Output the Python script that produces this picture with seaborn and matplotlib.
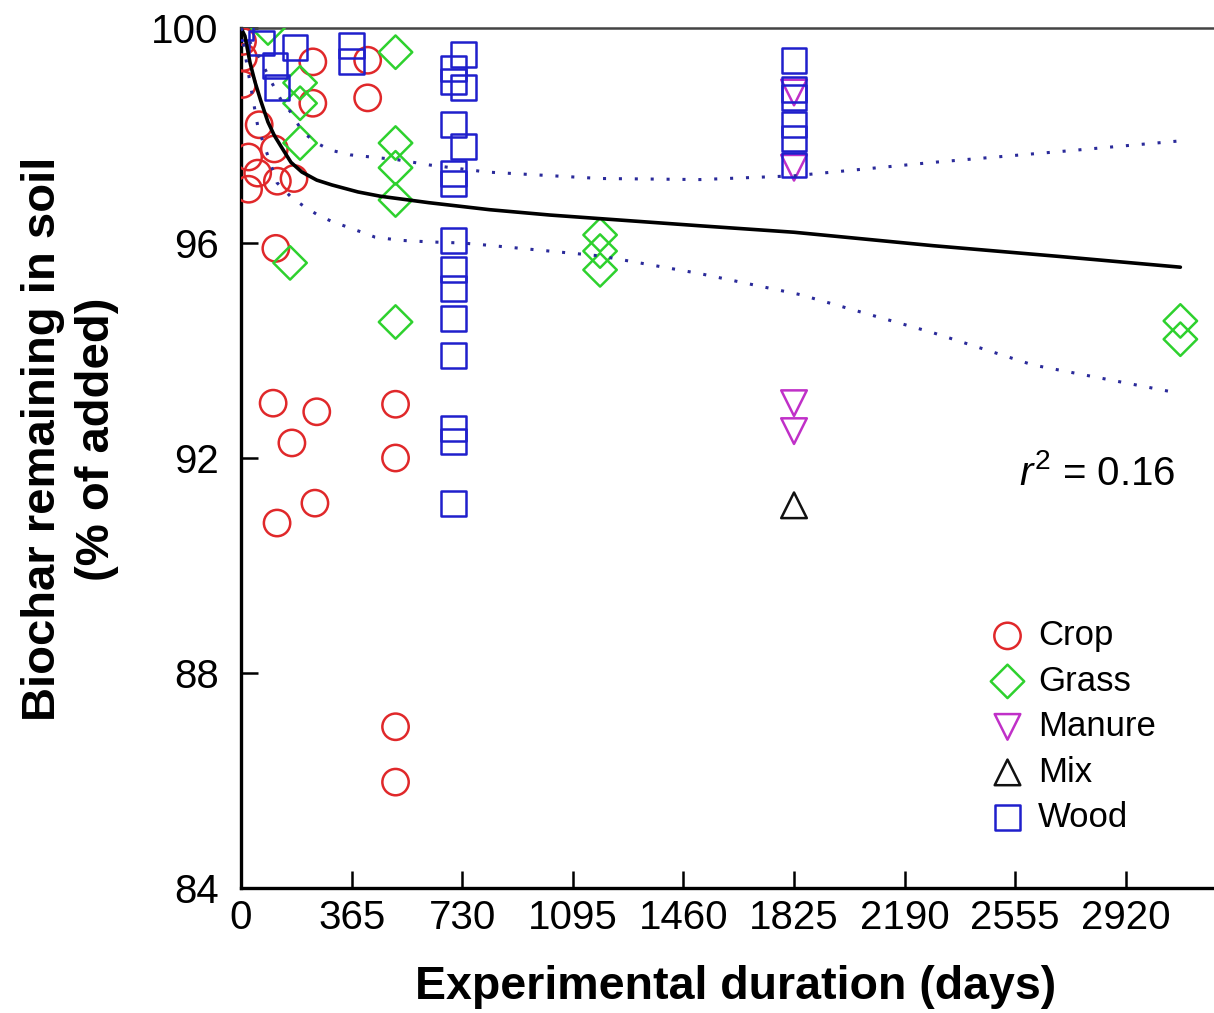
import matplotlib
matplotlib.use("Agg")
import matplotlib.pyplot as plt
import seaborn as sns
import pandas as pd

# ---------------- data ----------------
crop_days = [5, 8, 5, 60, 25, 110, 55, 120, 175, 25, 115, 237, 237, 418, 418,
             106, 250, 168, 244, 119, 510, 510, 510, 510]
crop_vals = [99.75, 99.45, 98.95, 98.2, 97.6, 97.75, 97.3, 97.15, 97.2, 97.0, 95.9,
             99.37, 98.6, 99.4, 98.7,
             93.02, 92.86, 92.28, 91.16, 90.79, 93.0, 92.0, 87.0, 85.97]

grass_days = [89, 195, 195, 195, 162, 510, 510, 510, 510, 510, 1185, 1185, 1185, 3100, 3100]
grass_vals = [100.0, 98.98, 98.6, 97.86, 95.63, 99.55, 97.86, 97.4, 96.8, 94.53,
              96.15, 95.85, 95.5, 94.55, 94.21]

manure_days = [1825, 1825, 1825, 1825]
manure_vals = [98.8, 97.4, 93.02, 92.5]

mix_days = [1825]
mix_vals = [91.12]

wood_days = [0, 69, 112, 119, 178, 366, 366,
             700, 700, 700, 700, 700, 700, 700, 700, 700, 700, 700, 700, 700,
             733, 733, 733,
             1825, 1825, 1825, 1825, 1825, 1825]
wood_vals = [100.0, 99.72, 99.31, 98.9, 99.63, 99.68, 99.37,
             99.25, 99.0, 98.2, 97.3, 97.1, 96.05, 95.5, 95.15, 94.6, 93.9, 92.55, 92.3, 91.15,
             99.5, 98.9, 97.8,
             99.4, 98.85, 98.7, 98.2, 97.95, 97.45]

fit_days = [0, 13, 30, 46, 65, 89, 110, 135, 165, 201, 250, 300, 386, 460, 620,
            820, 1020, 1515, 1825, 2284, 2700, 3100]
fit_vals = [100.0, 99.85, 99.35, 99.0, 98.65, 98.25, 98.0, 97.77, 97.5, 97.32, 97.17,
            97.08, 96.95, 96.87, 96.75, 96.62, 96.52, 96.32, 96.2, 95.95, 95.75, 95.55]

upper_days = [0, 56, 100, 138, 162, 204, 250, 294, 360, 515, 624, 812, 1185, 1515,
              1825, 2284, 2700, 3100]
upper_vals = [100.0, 99.5, 99.0, 98.6, 98.45, 98.06, 97.86, 97.73, 97.64, 97.55, 97.45,
              97.32, 97.2, 97.18, 97.25, 97.5, 97.7, 97.9]

lower_days = [0, 20, 56, 90, 119, 168, 211, 254, 300, 350, 399, 442, 525, 624, 730,
              812, 1185, 1515, 1845, 2284, 2614, 3100]
lower_vals = [100.0, 99.3, 98.15, 97.6, 97.12, 96.84, 96.67, 96.52, 96.4, 96.3, 96.2,
              96.11, 96.05, 96.02, 96.0, 95.96, 95.76, 95.43, 95.04, 94.33, 93.73, 93.2]

x_ticks = [0, 365, 730, 1095, 1460, 1825, 2190, 2555, 2920]
y_ticks = [84, 88, 92, 96, 100]

# ---------------- style ----------------
sns.set_style("ticks")
plt.rcParams["font.family"] = ["Liberation Sans", "DejaVu Sans"]
plt.rcParams["mathtext.fontset"] = "custom"
plt.rcParams["mathtext.rm"] = "Liberation Sans"
plt.rcParams["mathtext.it"] = "Liberation Sans:italic"

fig = plt.figure(figsize=(12.14, 10.13), dpi=100)
ax = fig.add_axes([241 / 1214, 125 / 1013, 973 / 1214, 860 / 1013])

groups = [
    ("Crop", crop_days, crop_vals, "o", "#e0282a", 360),
    ("Grass", grass_days, grass_vals, "D", "#2ed12e", 290),
    ("Manure", manure_days, manure_vals, "v", "#c030c8", 340),
    ("Mix", mix_days, mix_vals, "^", "#111111", 340),
    ("Wood", wood_days, wood_vals, "s", "#1f1fcc", 320),
]
for name, xs, ys, mk, col, size in groups:
    df = pd.DataFrame({"days": xs, "val": ys})
    sns.scatterplot(data=df, x="days", y="val", ax=ax, marker=mk, s=size,
                    facecolors="none", edgecolor=col, linewidth=1.8,
                    label=name, zorder=3)

sns.lineplot(x=fit_days, y=fit_vals, ax=ax, color="black", linewidth=2.6,
             sort=False, zorder=4, label="_fit")
sns.lineplot(x=upper_days, y=upper_vals, ax=ax, color="#2a2a9a", linewidth=2.2,
             linestyle=(0, (1, 4.2)), sort=False, zorder=4, label="_up")
sns.lineplot(x=lower_days, y=lower_vals, ax=ax, color="#2a2a9a", linewidth=2.2,
             linestyle=(0, (1, 4.2)), sort=False, zorder=4, label="_lo")

ax.set_xlim(0, 3211)
ax.set_ylim(84, 100)
ax.set_xticks(x_ticks)
ax.set_yticks(y_ticks)
ax.tick_params(axis="both", direction="in", length=12, width=1.8,
               labelsize=29, colors="black")
ax.tick_params(axis="y", pad=16)
ax.tick_params(axis="x", pad=8)

for side in ["left", "bottom"]:
    ax.spines[side].set_linewidth(2.4)
    ax.spines[side].set_color("black")
ax.spines["top"].set_linewidth(1.8)
ax.spines["top"].set_color("#444444")
ax.spines["right"].set_visible(False)

ax.set_xlabel("Experimental duration (days)", fontsize=33.5, fontweight="bold",
              color="black")
ax.set_ylabel("Biochar remaining in soil\n(% of added)", fontsize=34,
              fontweight="bold", color="black", linespacing=1.3)
ax.xaxis.set_label_coords(0.508, -0.09)
ax.yaxis.set_label_coords(-0.125, 0.522)

ax.text(3085, 91.72, r"$r^2$ = 0.16", fontsize=29, ha="right", va="center",
        color="black")

handles, labels = ax.get_legend_handles_labels()
keep = [(h, l) for h, l in zip(handles, labels) if not l.startswith("_")]
leg = ax.legend([h for h, _ in keep], [l for _, l in keep],
                loc="upper left", bbox_to_anchor=(991 / 1214, 1 - 619 / 1013),
                bbox_transform=fig.transFigure, frameon=False, fontsize=25,
                handlelength=0.95, handletextpad=0.4, labelspacing=0.36,
                borderpad=0, borderaxespad=0)
for t in leg.get_texts():
    t.set_color("black")

fig.savefig("out.png", dpi=100)
